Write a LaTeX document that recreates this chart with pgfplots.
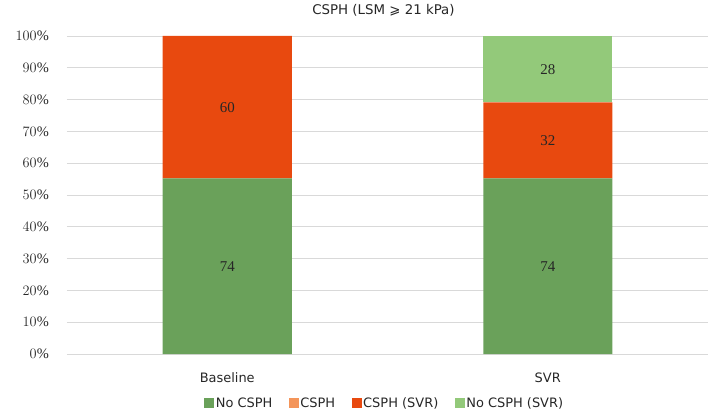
\documentclass[border=0pt]{standalone}
\usepackage{fontspec}
\setmainfont{DejaVu Sans}
\newfontfamily\numfont{Liberation Serif}
\usepackage{pgfplots}
\pgfplotsset{compat=1.18}
\definecolor{cNo}{HTML}{6AA15A}
\definecolor{cCSPH}{HTML}{F4955A}
\definecolor{cSVR}{HTML}{E8490F}
\definecolor{cNoSVR}{HTML}{93C97A}
\definecolor{gridc}{HTML}{D9D9D9}
\definecolor{txt}{HTML}{262626}
\pgfplotsset{
  common/.style={
    scale only axis, width=641bp, height=318bp,
    at={(0,0)}, anchor=south west,
    xmin=-0.5, xmax=1.5, ymin=0, ymax=100,
  }
}
\begin{document}
\begin{tikzpicture}
\begin{axis}[common,
  ybar stacked, bar width=129bp,
  xtick={0,1}, xticklabels={Baseline,SVR},
  ytick={0,10,...,100},
  yticklabel={\numfont\pgfmathprintnumber{\tick}\%},
  ymajorgrids, grid style={gridc, line width=0.8bp},
  axis line style={draw=none},
  major tick length=0pt,
  xticklabel style={anchor=center, yshift=-24bp, inner sep=0pt, font=\fontsize{13}{15}\selectfont, text=txt},
  yticklabel style={anchor=east, xshift=-18bp, inner sep=0pt, font=\fontsize{14.5}{16}\selectfont, text=txt},
  title={CSPH (LSM ⩾ 21 kPa)},
  title style={at={(0.5,1)}, anchor=center, xshift=-4bp, yshift=20bp, inner sep=0pt, font=\fontsize{13.4}{15}\selectfont, text=txt},
  legend style={at={(0.5,0)}, anchor=center, xshift=-3bp, yshift=-49bp, draw=none, fill=none,
    font=\fontsize{13}{15}\selectfont, text=txt, nodes={inner sep=1.5bp},
    /tikz/every even column/.append style={column sep=15bp}},
  legend columns=4,
  legend image code/.code={\fill[#1] (0bp,-5bp) rectangle (10bp,5bp);},
]
\addplot[fill=cNo, draw=none] coordinates {(0,55.22) (1,55.22)};
\addlegendentry{No CSPH}
\addplot[fill=cCSPH, draw=none] coordinates {(0,0) (1,0)};
\addlegendentry{CSPH}
\addplot[fill=cSVR, draw=none] coordinates {(0,44.78) (1,23.88)};
\addlegendentry{CSPH (SVR)}
\addplot[fill=cNoSVR, draw=none] coordinates {(0,0) (1,20.90)};
\addlegendentry{No CSPH (SVR)}
\end{axis}
\begin{axis}[common, hide axis]
\addplot[draw=none, mark=none, nodes near coords, point meta=explicit symbolic,
  nodes near coords style={anchor=center, font=\numfont\fontsize{15}{17}\selectfont, text=txt}]
  table[meta=lab] {
x y lab
0 27.61 74
0 77.61 60
1 27.61 74
1 67.16 32
1 89.55 28
};
\end{axis}
\pgfresetboundingbox
\path[use as bounding box] (-67bp,-64bp) rectangle (657bp,354bp);
\end{tikzpicture}
\end{document}
